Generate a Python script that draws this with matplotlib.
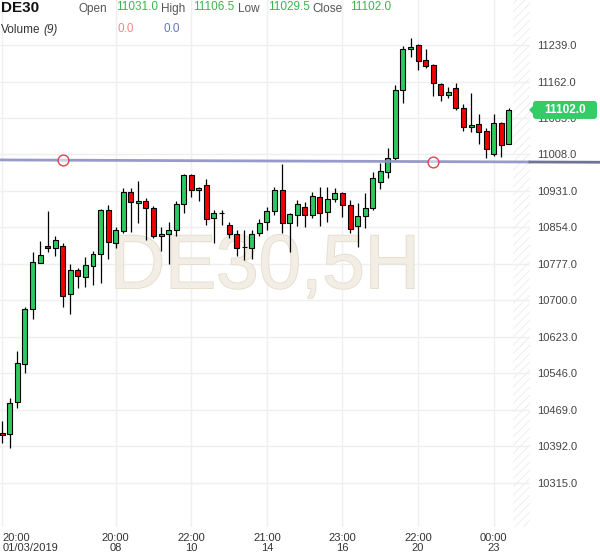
import matplotlib
matplotlib.use('Agg')
import matplotlib.pyplot as plt
import matplotlib.patheffects as pe
from matplotlib.patches import FancyBboxPatch, Polygon
from matplotlib.transforms import IdentityTransform
import numpy as np

plt.rcParams['font.family'] = ['Liberation Sans', 'DejaVu Sans']
plt.rcParams['hatch.linewidth'] = 0.6

# DE30 5H candles
opens = [10420, 10418, 10486, 10566, 10682, 10779, 10815, 10811, 10815, 10714,
         10764, 10749, 10773, 10798, 10891, 10821, 10847, 10929, 10906, 10910,
         10895, 10836, 10841, 10849, 10904, 10965, 10933, 10944, 10874, 10885,
         10859, 10841, 10813, 10811, 10843, 10866, 10889, 10933, 10864, 10880,
         10897, 10880, 10918, 10887, 10914, 10927, 10901, 10857, 10878, 10895,
         10950, 10971, 11001, 11144, 11231, 11239, 11207, 11197, 11157, 11134,
         11148, 11106, 11066, 11072, 11058, 11009, 11074, 11031.0]
highs = [10446, 10494, 10593, 10686, 10802, 10826, 10889, 10836, 10821, 10777,
         10769, 10792, 10804, 10893, 10901, 10855, 10937, 10937, 10952, 10916,
         10899, 10855, 10866, 10910, 10967, 10967, 10939, 10956, 10891, 10891,
         10866, 10849, 10849, 10849, 10872, 10897, 10939, 10988, 10885, 10912,
         10908, 10929, 10939, 10939, 10937, 10929, 10912, 10906, 10927, 10971,
         10990, 11021, 11155, 11237, 11254, 11241, 11231, 11199, 11159, 11150,
         11159, 11115, 11138, 11093, 11064, 11093, 11077, 11106.5]
lows = [10399, 10389, 10473, 10547, 10661, 10779, 10802, 10794, 10686, 10671,
        10726, 10728, 10733, 10737, 10787, 10811, 10843, 10845, 10864, 10828,
        10832, 10804, 10777, 10836, 10885, 10918, 10910, 10859, 10821, 10859,
        10832, 10794, 10785, 10787, 10836, 10849, 10880, 10843, 10802, 10857,
        10855, 10874, 10857, 10866, 10908, 10876, 10843, 10813, 10853, 10891,
        10935, 10958, 10996, 11117, 11214, 11186, 11191, 11131, 11121, 11127,
        11102, 11058, 11055, 11030, 11001, 11005, 11003, 11029.5]
closes = [10416, 10484, 10568, 10682, 10781, 10796, 10811, 10828, 10709, 10764,
          10752, 10775, 10798, 10891, 10823, 10849, 10929, 10908, 10910, 10895,
          10836, 10841, 10849, 10904, 10965, 10933, 10937, 10872, 10885, 10885,
          10841, 10811, 10813, 10841, 10864, 10889, 10933, 10864, 10883, 10904,
          10880, 10920, 10885, 10914, 10927, 10901, 10851, 10878, 10895, 10958,
          10973, 11001, 11144, 11231, 11235, 11205, 11195, 11159, 11134, 11140,
          11106, 11066, 11070, 11055, 11019, 11074, 11028, 11102.0]

price_ticks = [10315, 10392, 10469, 10546, 10623, 10700, 10777, 10854,
               10931, 11008, 11085, 11162, 11239]
time_pos = [0, 15, 25, 35, 45, 55, 65]
time_labels = ['20:00\n01/03/2019', '20:00\n08', '22:00\n10', '21:00\n14',
               '23:00\n16', '22:00\n20', '00:00\n23']

# horizontal trendline anchors (bar index, price)
trend_x = [8, 57]
trend_y = [10996, 10993]

GREEN = '#2dc85f'
RED = '#f00000'

fig = plt.figure(figsize=(6, 5.58), dpi=100)
ax = fig.add_axes([0, 31 / 558, 530 / 600, 527 / 558])

n = len(opens)
idx = np.arange(n)
o = np.array(opens)
c = np.array(closes)
cols = [GREEN if cc >= oo else RED for oo, cc in zip(o, c)]

ax.vlines(idx, lows, highs, color='black', lw=0.9, zorder=3)
ax.bar(idx, c - o, bottom=o, width=0.66, color=cols, edgecolor='black',
       linewidth=0.8, zorder=4)

ax.set_xlim(-0.3, 69.8)
ax.set_ylim(10222, 11334)

# watermark
ax.text(34.75, 10726, 'DE30,5H', fontsize=55, color='#f2eee5', ha='center',
        va='baseline', zorder=1,
        path_effects=[pe.withStroke(linewidth=1.2, foreground='#e4dccb')])

# future zone hatch
ax.axvspan(67.55, 69.8, facecolor='none', edgecolor='#ebebeb', hatch='////',
           lw=0, zorder=0)

# trendline
slope = (trend_y[1] - trend_y[0]) / (trend_x[1] - trend_x[0])
xa = np.array([-0.3, 69.8])
ax.plot(xa, trend_y[0] + slope * (xa - trend_x[0]), color='#8d90c4', lw=2,
        alpha=0.9, zorder=5)
xb = np.array([69.8, 79.2])
ax.plot(xb, trend_y[0] + slope * (xb - trend_x[0]), color='#6f7396', lw=2,
        zorder=5, clip_on=False)
ax.scatter(trend_x, trend_y, s=60, facecolor=(1, 1, 1, 0.5),
           edgecolor='#e0454d', linewidth=1, zorder=6)

ax.set_yticks(price_ticks)
ax.set_yticklabels(['%.1f' % v for v in price_ticks])
ax.yaxis.tick_right()
ax.set_xticks(time_pos)
ax.set_xticklabels(time_labels, linespacing=0.95)
ax.get_xticklabels()[0].set_horizontalalignment('left')
ax.tick_params(axis='y', length=0, pad=5, labelsize=8, labelcolor='#444444')
ax.tick_params(axis='x', length=0, pad=4.5, labelsize=8, labelcolor='#333333')
ax.grid(True, color='#efefef', lw=1, zorder=0)
ax.set_axisbelow(True)
for s in ax.spines.values():
    s.set_visible(False)

# last price tag
fig.canvas.draw()
yp = ax.transData.transform((0, closes[-1]))[1]
tag = FancyBboxPatch((533, yp - 9), 64, 18,
                     boxstyle='round,pad=0,rounding_size=3',
                     transform=IdentityTransform(), fc='#33cc66', ec='none',
                     zorder=10)
fig.add_artist(tag)
tri = Polygon([(529, yp), (534, yp + 5), (534, yp - 5)], closed=True,
              transform=IdentityTransform(), fc='#33cc66', ec='none', zorder=10)
fig.add_artist(tri)
fig.text(565 / 600, yp / 558, '%.1f' % closes[-1], color='white',
         fontsize=8.5, fontweight='bold', ha='center', va='center', zorder=11)

# header
def hdr(x, y, s, color, **kw):
    fig.text(x / 600, 1 - y / 558, s, color=color, va='center', ha='left', **kw)

hdr(1, 8, 'DE30', '#111111', fontsize=11, fontweight='bold')
hdr(79, 9, 'Open', '#555555', fontsize=8.5)
hdr(116, 7, '%.1f' % opens[-1], '#3cb54a', fontsize=8.5)
hdr(161, 9, 'High', '#555555', fontsize=8.5)
hdr(193, 7, '%.1f' % highs[-1], '#3cb54a', fontsize=8.5)
hdr(238, 9, 'Low', '#555555', fontsize=8.5)
hdr(268, 7, '%.1f' % lows[-1], '#3cb54a', fontsize=8.5)
hdr(312, 9, 'Close', '#555555', fontsize=8.5)
hdr(350, 7, '%.1f' % closes[-1], '#3cb54a', fontsize=8.5)
hdr(1, 30, 'Volume', '#333333', fontsize=8.5)
hdr(43, 30, '(9)', '#333333', fontsize=8.5, fontstyle='italic')
hdr(118, 29, '0.0', '#f08888', fontsize=8.5)
hdr(163, 29, '0.0', '#6677bb', fontsize=8.5)

fig.savefig('out.png', dpi=100)
